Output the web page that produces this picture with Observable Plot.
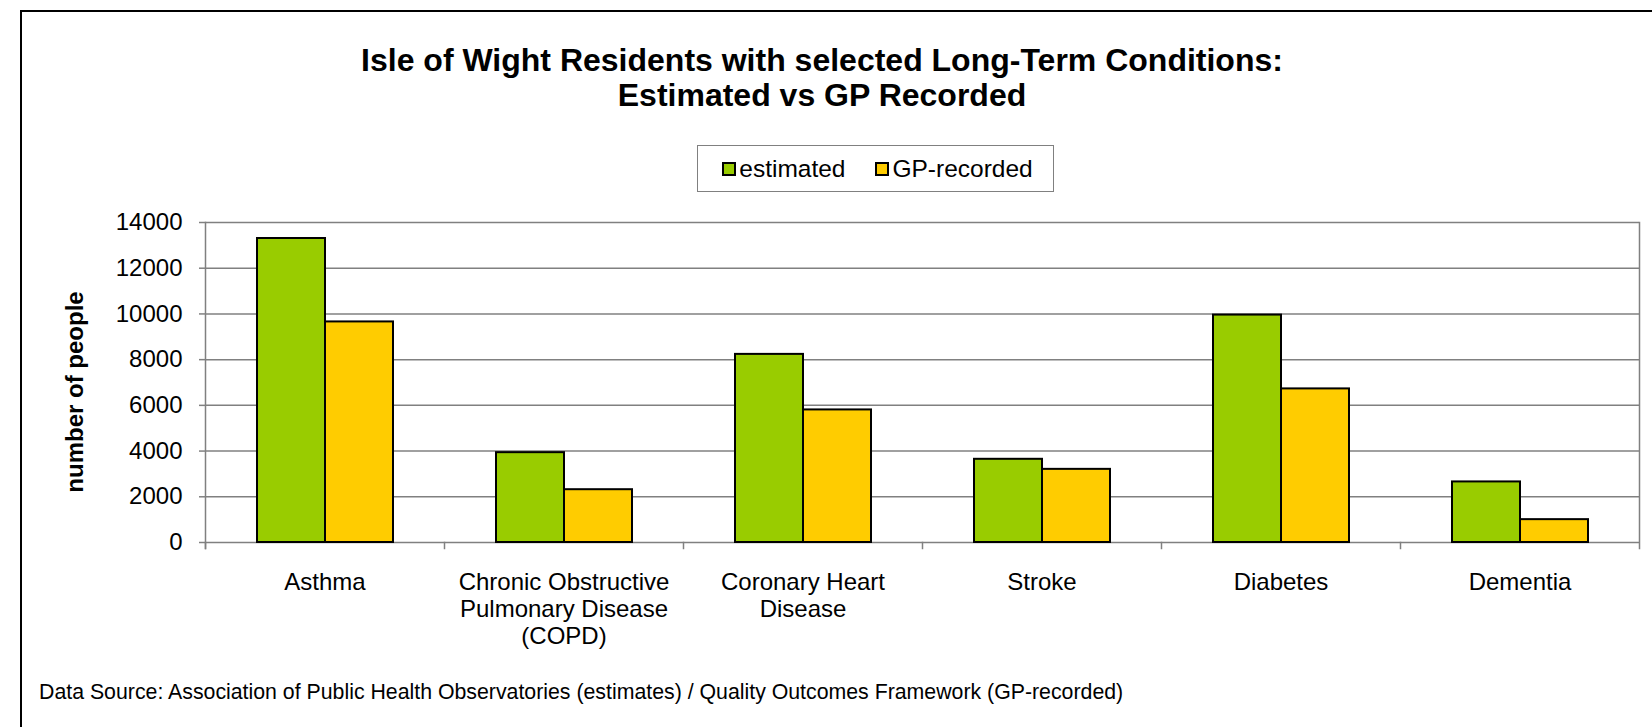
<!DOCTYPE html>
<html>
<head>
<meta charset="utf-8">
<script src="https://cdn.jsdelivr.net/npm/d3@7"></script>
<script src="https://cdn.jsdelivr.net/npm/@observablehq/plot@0.6"></script>
<style>
  html, body { margin: 0; padding: 0; background: #fff; }
  #page { position: relative; width: 1652px; height: 727px; overflow: hidden; font-family: "Liberation Sans", Arial, sans-serif; color: #000; }
  #border { position: absolute; left: 20px; top: 10px; width: 1700px; height: 800px; border-top: 2px solid #000; border-left: 2px solid #000; }
  #title { position: absolute; left: 0; top: 43px; width: 1644px; text-align: center; font-weight: bold; font-size: 32px; line-height: 35px; }
  #legend { position: absolute; left: 697px; top: 145px; width: 357px; height: 47px; box-sizing: border-box; border: 1.5px solid #808080; display: flex; align-items: center; justify-content: center; gap: 30px; font-size: 24.5px; padding-left: 4px; }
  .item { display: flex; align-items: center; gap: 3px; }
  .sw { width: 14px; height: 14px; box-sizing: border-box; border: 2px solid #000; }
  #ylabel { position: absolute; left: 75px; top: 392px; transform: translate(-50%, -50%) rotate(-90deg); font-weight: bold; font-size: 24px; white-space: nowrap; }
  #chart { position: absolute; left: 0; top: 190px; }
  #caption { position: absolute; left: 39px; top: 680px; font-size: 21.3px; line-height: 24px; white-space: nowrap; }
</style>
</head>
<body>
<div id="page">
  <div id="border"></div>
  <div id="title"></div>
  <div id="legend"></div>
  <div id="ylabel"></div>
  <div id="chart"></div>
  <div id="caption"></div>
</div>
<script>
const titleLines = ["Isle of Wight Residents with selected Long-Term Conditions:", "Estimated vs GP Recorded"];
const yLabel = "number of people";
const caption = "Data Source: Association of Public Health Observatories (estimates) / Quality Outcomes Framework (GP-recorded)";
const categories = ["Asthma", "Chronic Obstructive\nPulmonary Disease\n(COPD)", "Coronary Heart\nDisease", "Stroke", "Diabetes", "Dementia"];
const series = ["estimated", "GP-recorded"];
const estimated = [13300, 3930, 8230, 3640, 9950, 2650];
const gpRecorded = [9650, 2310, 5800, 3200, 6720, 1000];
const yTicks = [0, 2000, 4000, 6000, 8000, 10000, 12000, 14000];
const colors = ["#99CC00", "#FFCC00"];

const data = categories.flatMap((c, i) => [
  {category: c, series: series[0], value: estimated[i]},
  {category: c, series: series[1], value: gpRecorded[i]}
]);

document.getElementById("title").innerHTML = titleLines.map(t => `<div>${t}</div>`).join("");
document.getElementById("ylabel").textContent = yLabel;
document.getElementById("caption").textContent = caption;
document.getElementById("legend").innerHTML = series.map((s, i) =>
  `<div class="item"><div class="sw" style="background:${colors[i]}"></div><span>${s}</span></div>`).join("");

const grey = "#808080";
const chart = Plot.plot({
  width: 1652,
  height: 470,
  marginTop: 32,
  marginBottom: 118,
  marginLeft: 203,
  marginRight: 12,
  style: {fontFamily: "'Liberation Sans', Arial, sans-serif", fontSize: "24px", color: "#000", background: "transparent", overflow: "visible"},
  fx: {domain: categories, padding: 0, label: null},
  x: {domain: series, paddingInner: 0, paddingOuter: 0.745, axis: null},
  y: {domain: [0, 14000], label: null},
  color: {domain: series, range: colors},
  marks: [
    Plot.gridY(yTicks, {stroke: grey, strokeOpacity: 1, strokeWidth: 1.5}),
    Plot.frame({anchor: "left", facetAnchor: "left", stroke: grey, strokeWidth: 1.5, insetBottom: -6}),
    Plot.frame({anchor: "right", facetAnchor: "right", stroke: grey, strokeWidth: 1.5, insetBottom: -6}),
    Plot.frame({anchor: "left", stroke: grey, strokeWidth: 1.5, insetTop: 320, insetBottom: -6}),
    Plot.barY(data, {fx: "category", x: "series", y: "value", fill: "series", stroke: "#000", strokeWidth: 2}),
    Plot.axisY(yTicks, {tickSize: 6, tickPadding: 17, stroke: grey, strokeWidth: 1.5, tickFormat: "d", label: null, fontSize: 24}),
    Plot.axisFx({anchor: "bottom", tickSize: 0, tickPadding: 28, lineHeight: 1.13, label: null, fontSize: 24})
  ]
});
document.getElementById("chart").appendChild(chart);
</script>
</body>
</html>
